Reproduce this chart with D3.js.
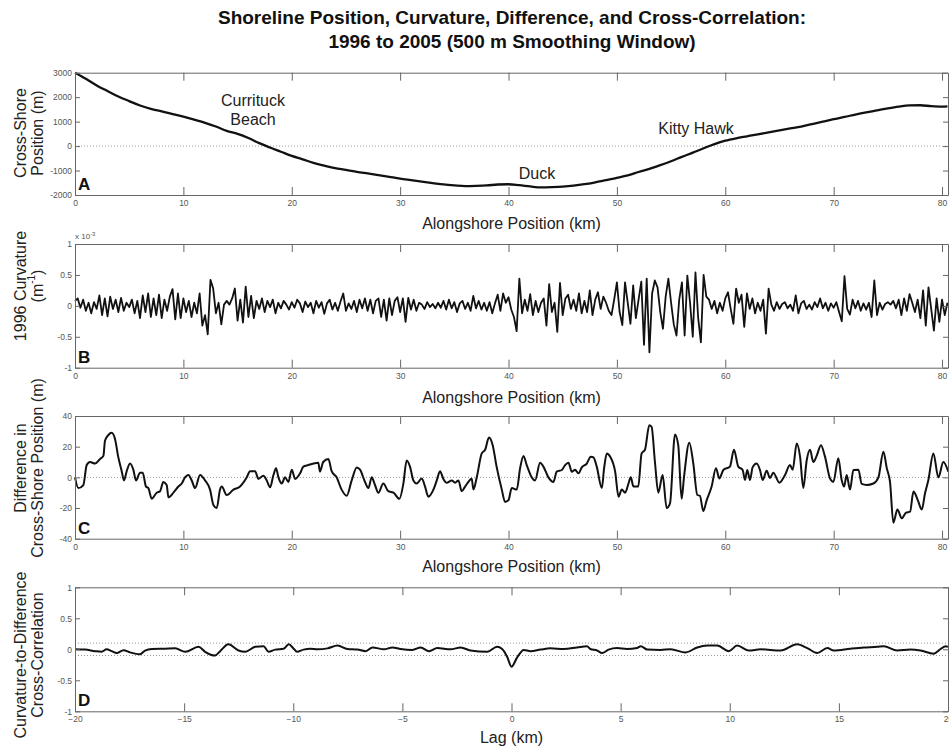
<!DOCTYPE html>
<html lang="en">
<head>
<meta charset="utf-8">
<title>Shoreline Position, Curvature, Difference, and Cross-Correlation</title>
<script src="https://cdn.jsdelivr.net/npm/d3@7"></script>
<style>
  body { margin: 0; background: #fff; }
  svg { display: block; font-family: "Liberation Sans", Arial, sans-serif; }
  .axis path, .axis line { stroke: #666; stroke-width: 1; }
  .axis text { fill: #555; font-size: 8.5px; font-family: "Liberation Sans", Arial, sans-serif; }
  .lbl { font-size: 16px; fill: #222; }
</style>
</head>
<body>
<script>

// ---- panel A : shoreline cross-shore position (m) ----
var shoreKm = [0,1,2,3,4,5,6,7,8,9,10,11,12,13,14,15,16,17,18,19,20,21,22,23,24,25,26,27,28,29,30,
  31,32,33,34,35,36,37,38,39,40,41,42,43,44,45,46,47,48,49,50,51,52,53,54,55,56,57,58,59,60,
  61,62,63,64,65,66,67,68,69,70,71,72,73,74,75,76,77,78,79,80,80.5];
var shorePos = [3000,2750,2480,2250,2030,1840,1660,1520,1420,1310,1200,1080,950,800,620,500,330,120,-60,-230,-400,
  -540,-690,-800,-900,-970,-1050,-1120,-1190,-1260,-1330,-1390,-1450,-1510,-1570,-1610,-1640,-1630,-1610,-1570,-1560,
  -1600,-1650,-1690,-1680,-1660,-1620,-1560,-1480,-1390,-1300,-1200,-1060,-930,-780,-620,-440,-270,-90,80,220,
  320,400,480,560,640,720,800,900,1000,1100,1190,1290,1380,1460,1540,1610,1660,1670,1630,1610,1620];

// ---- panel B : 1996 curvature (x 10^-3 1/m), every 0.25 km from 0 to 80.5 ----
var curvVal = [
  0.08,0.12,-0.03,0.10, -0.08,0.05,-0.12,0.06, -0.05,0.17,-0.15,0.12, -0.17,0.15,-0.05,0.10,
  -0.10,0.13,-0.08,0.05, -0.02,0.10,-0.12,0.08, -0.20,0.17,-0.10,0.20, -0.18,0.12,-0.15,0.18,
  -0.20,0.10,-0.08,0.15, 0.27,-0.22,0.20,-0.20, 0.12,-0.10,0.08,-0.18, 0.05,-0.12,0.20,-0.32,
  -0.15,-0.46,0.42,0.28, -0.12,0.05,-0.30,0.02, 0.08,0.02,0.12,0.28, -0.24,0.10,-0.27,0.31,
  -0.18,0.16,-0.20,0.08, -0.05,0.12,-0.10,0.08, -0.02,0.10,-0.12,0.05, -0.04,0.08,0.02,-0.06,
  0.06,-0.03,0.10,0.04, -0.10,0.07,-0.02,0.05, -0.12,0.08,-0.03,0.06, -0.13,0.04,0.10,-0.06,
  0.05,-0.08,0.07,0.20, -0.08,0.04,-0.05,0.08, -0.10,0.10,-0.04,0.12, -0.08,0.10,-0.12,0.08,
  0.12,-0.18,0.10,-0.24, 0.12,-0.15,0.08,0.14, -0.10,0.12,-0.26,0.13, -0.06,0.10,-0.08,0.05,
  0.02,-0.05,0.06,-0.02, 0.03,-0.04,0.05,-0.03, 0.08,-0.06,0.10,-0.04, 0.06,-0.10,0.04,0.08,
  -0.05,0.05,-0.08,0.16, -0.04,0.08,-0.06,0.05, -0.08,0.06,-0.12,0.04, 0.18,-0.08,0.20,0.05,
  0.14,-0.06,-0.18,-0.41, 0.44,-0.12,0.10,-0.08, 0.19,-0.15,0.08,-0.10, 0.05,0.12,-0.32,0.35,
  -0.10,0.05,-0.42,0.37, -0.15,0.12,0.18,-0.05, 0.10,-0.08,0.20,-0.12, 0.08,-0.10,0.25,-0.15,
  0.10,0.22,-0.05,0.15, 0.05,-0.08,-0.15,0.10, 0.38,-0.10,-0.31,0.38, 0.05,-0.29,0.33,-0.20,
  0.10,0.39,-0.63,0.44, -0.75,0.20,0.41,0.30, -0.10,-0.37,0.15,0.44, 0.05,-0.30,-0.48,0.10,
  0.38,-0.48,0.49,0.05, -0.50,0.54,-0.20,-0.59, 0.50,0.15,0.10,-0.05, 0.08,-0.12,0.05,-0.08,
  0.12,0.22,-0.05,-0.29, 0.28,0.05,0.18,-0.34, 0.20,-0.05,0.12,-0.12, 0.05,-0.08,0.10,-0.45,
  0.28,0.02,-0.08,0.06, -0.05,0.03,0.06,-0.04, 0.02,-0.08,0.17,-0.12, 0.04,0.08,-0.05,0.02,
  -0.06,0.06,-0.02,0.12, -0.04,0.05,-0.08,0.04, -0.03,0.06,-0.10,-0.25, 0.48,-0.05,-0.14,0.10,
  -0.04,0.08,-0.08,0.04, -0.06,0.05,-0.18,0.41, -0.15,0.05,-0.06,0.03, 0.06,0.02,0.08,-0.04,
  0.10,-0.15,0.12,-0.08, 0.19,0.05,-0.10,0.10, -0.20,0.25,-0.32,0.30, -0.05,-0.40,0.12,-0.26,
  0.10,-0.15,0.05];
var curvKm = curvVal.map(function(d, i) { return i * 0.25; });

// ---- panel C : difference in cross-shore position (m) ----
var diffKm = [0,0.31,0.77,1.08,1.38,1.85,2.31,2.62,2.77,3.08,3.38,3.69,4.0,4.31,4.52,4.77,5.08,5.38,5.63,6.0,
  6.25,6.55,6.77,7.08,7.54,7.85,8.15,8.46,8.62,9.08,9.54,9.85,10.15,10.46,10.77,11.08,11.54,12.0,12.46,12.77,
  13.08,13.38,13.54,14.0,14.62,15.23,15.85,16.15,16.62,16.92,17.38,17.69,18.0,18.31,18.55,18.77,19.08,19.38,19.69,20.0,
  20.31,20.77,21.07,21.53,22.0,22.45,22.6,22.9,23.38,23.68,24.14,24.6,25.07,25.53,26.0,26.3,26.76,27.07,27.38,27.68,
  27.99,28.45,28.9,29.38,29.93,30.3,30.6,30.91,31.22,31.53,31.99,32.3,32.6,33.07,33.38,33.68,33.99,34.3,34.76,35.07,
  35.38,35.68,35.99,36.3,36.6,36.76,37.07,37.53,37.84,38.2,38.54,38.9,39.38,39.68,39.99,40.3,40.76,41.07,41.38,41.68,
  42.14,42.45,42.91,43.22,43.68,44.14,44.45,44.92,45.22,45.53,45.84,46.14,46.45,46.76,47.22,47.59,47.84,48.14,48.61,48.82,
  49.07,49.38,49.84,50.15,50.45,50.76,51.07,51.28,51.53,51.97,52.28,52.59,52.99,53.2,53.51,53.82,54.22,54.59,54.9,55.36,
  55.66,55.97,56.19,56.68,57.05,57.42,57.66,57.97,58.28,58.74,59.14,59.45,59.82,60.43,60.8,61.2,61.6,61.82,62.03,62.28,
  62.52,62.9,63.2,63.45,63.82,64.13,64.43,64.99,65.51,65.97,66.22,66.59,66.9,67.2,67.51,67.82,68.12,68.43,68.83,69.2,
  69.66,69.97,70.43,70.74,70.96,71.2,71.51,71.82,72.28,72.59,73.05,73.66,74.13,74.59,74.9,75.2,75.51,75.88,76.28,76.68,
  77.05,77.36,77.76,78.13,78.43,78.74,79.2,79.66,80.12,80.58];
var diffVal = [0,-7,-5,8,10,9,12,14,24,27.6,29,25,13,4,-2,4,9,5,-2,3,
  3,-6,-7,-14,-10,-9,-3,-5,-13,-10,-6,-4,0,1.5,-2,-7,1.5,-2,-8,-18,
  -20,-8,-6,-11.5,-8,-6,0,4,4,-1,1,-2,-6.5,1.5,6,0,-4,0,-3,5,
  -1,2.6,7,8,9,9.5,3.7,10,12,4,0,-8,-12,-2,6.5,5,-3,-7,0,-5,
  -10,-4,-9,-10,-14,-4,11,7,-2,-4,-0.7,-6,-12.6,-8,-2,4,-1,-3.5,-2,-3.5,
  -2,-9,-6,-3,-0.7,-8,0,15.6,18,26,21,7,-8,-16,-15,-7,-8,6,14,8,
  0,-2,9.5,7,0,-3,3.7,4.8,8,9.5,3.7,5,2.6,6.5,9,13.5,13,7,-7,6,
  15.6,13.5,3.7,-12.6,-8,-10,-4,0,-6,-6,15.6,18,34,33,10,-10,1.5,-20,-17,28,
  21,-14,0,22.6,9,-11.5,-12,-22,-15,-6,6,-0.7,4.8,7,18,7,4.8,-1.7,4.8,-1.7,
  6.5,9,4.8,-1.7,4.3,-0.5,3,-3.5,1.5,8,5,22,13.5,-7,11,18,10,14,21,13.5,
  -0.7,-3,12.4,-1.7,-6,1.5,-8,4.8,5,-4.3,-5,-4,0,16.7,6,-3,-29.6,-21,-26.7,-23,
  -22.4,-9.3,-14.8,-21,-10.4,-1.7,15.6,0,10,3.7];

// ---- panel D : curvature-to-difference cross-correlation ----
var lagKm = [-20,-19.54,-19.08,-18.78,-18.55,-18.32,-18.09,-17.78,-17.48,-17.25,-17.02,-16.79,-16.48,-15.87,-15.41,
  -14.95,-14.34,-14.04,-13.58,-13.35,-12.97,-12.51,-12.2,-11.74,-11.36,-11.13,-10.83,-10.44,-10.21,-9.98,-9.83,-9.53,
  -9.22,-8.89,-8.43,-7.97,-7.52,-7.06,-6.68,-6.37,-5.84,-5.46,-5.08,-4.54,-4.16,-3.78,-3.4,-2.79,-2.33,-1.88,-1.11,
  -0.66,-0.43,-0.2,0,0.26,0.56,0.87,1.33,1.78,2.39,3.0,3.46,3.61,3.92,4.15,4.45,4.83,5.29,5.75,5.92,6.22,6.83,7.29,
  7.98,8.51,8.97,9.43,9.96,10.34,10.88,11.41,12.33,13.09,13.55,14.01,14.47,14.77,15.53,16.15,16.76,17.06,17.67,18.28,
  18.74,19.35,19.66,19.89,20];
var xcorr = [0,-0.005,-0.03,-0.04,0,-0.03,-0.06,-0.015,-0.05,-0.07,-0.08,-0.02,0.005,0.01,0.015,
  -0.04,0.04,-0.04,-0.10,-0.03,0.08,-0.02,-0.04,0.04,0.05,-0.04,-0.005,0.01,0.08,0.01,-0.04,-0.005,
  0.01,0,0.015,0.06,0.005,-0.005,-0.03,0.03,0,0.03,0.005,-0.01,0.03,-0.03,0.02,0,0.03,-0.02,-0.04,
  0.04,0.005,-0.12,-0.28,-0.13,-0.01,-0.03,-0.005,0.015,0.005,0.03,0.05,0.005,-0.02,-0.06,-0.005,0.02,0.005,0.02,0.05,-0.005,-0.01,0,
  -0.05,0.03,0.06,0.06,-0.03,0.06,-0.02,0,-0.02,0.08,0.02,-0.06,0.02,-0.02,0.01,0.03,0.04,0.05,-0.02,-0.005,
  -0.02,-0.07,0.005,0.05,0.04];

// ticks
var posTicks = [0,10,20,30,40,50,60,70,80];
var lagTicks = [-20,-15,-10,-5,0,5,10,15,20];
var shoreTicks = [-2000,-1000,0,1000,2000,3000];
var unitTicks = [-1,-0.5,0,0.5,1];
var diffTicks = [-40,-20,0,20,40];

var W = 949, H = 746;
var left = 75, right = 948;

var svg = d3.select("body").append("svg")
  .attr("width", W)
  .attr("height", H);

svg.append("text").attr("x", 512).attr("y", 24).attr("text-anchor", "middle")
  .style("font-weight", "bold").style("font-size", "19px").attr("fill", "#111")
  .text("Shoreline Position, Curvature, Difference, and Cross-Correlation:");
svg.append("text").attr("x", 512).attr("y", 48).attr("text-anchor", "middle")
  .style("font-weight", "bold").style("font-size", "19px").attr("fill", "#111")
  .text("1996 to 2005 (500 m Smoothing Window)");

function drawPanel(p) {
  var x = d3.scaleLinear().domain(p.xDomain).range([left, right]);
  var y = d3.scaleLinear().domain(p.yDomain).range([p.bottom, p.top]);
  var g = svg.append("g");

  // dotted reference lines
  p.refLines.forEach(function(v) {
    g.append("line")
      .attr("x1", left).attr("x2", right)
      .attr("y1", y(v)).attr("y2", y(v))
      .attr("stroke", "#999").attr("stroke-width", 1)
      .attr("stroke-dasharray", "1,2");
  });

  var line = d3.line()
    .x(function(d) { return x(d[0]); })
    .y(function(d) { return y(d[1]); })
    .curve(p.curve || d3.curveLinear);

  g.append("path")
    .datum(d3.zip(p.xs, p.ys))
    .attr("d", line)
    .attr("fill", "none")
    .attr("stroke", "#111")
    .attr("stroke-width", p.width)
    .attr("stroke-linejoin", "round");

  g.append("g").attr("class", "axis")
    .attr("transform", "translate(0," + p.bottom + ")")
    .call(d3.axisBottom(x).tickValues(p.xTicks).tickSize(-8).tickSizeOuter(0).tickPadding(5)
      .tickFormat(d3.format("d")));
  g.append("g").attr("class", "axis")
    .attr("transform", "translate(0," + p.top + ")")
    .call(d3.axisTop(x).tickValues(p.xTicks).tickSize(-8).tickSizeOuter(0).tickFormat(""));
  g.append("g").attr("class", "axis")
    .attr("transform", "translate(" + left + ",0)")
    .call(d3.axisLeft(y).tickValues(p.yTicks).tickSize(-5).tickSizeOuter(0).tickPadding(3)
      .tickFormat(function(d) { return String(d); }));
  g.append("g").attr("class", "axis")
    .attr("transform", "translate(" + right + ",0)")
    .call(d3.axisRight(y).tickValues(p.yTicks).tickSize(-5).tickSizeOuter(0).tickFormat(""));

  // panel letter
  g.append("text").attr("x", left + 3).attr("y", p.bottom - 5)
    .style("font-weight", "bold").style("font-size", "17px").attr("fill", "#111")
    .text(p.letter);

  // x label
  g.append("text").attr("class", "lbl").attr("x", (left + right) / 2).attr("y", p.xLabelY)
    .attr("text-anchor", "middle").attr("dominant-baseline", "central")
    .text(p.xLabel);

  // y label, two lines
  p.yLabel.forEach(function(t, i) {
    var tx = g.append("text").attr("class", "lbl")
      .attr("transform", "translate(" + (i === 0 ? 20 : 37) + "," + p.yLabelY + ") rotate(-90)")
      .attr("text-anchor", "middle").attr("dominant-baseline", "central");
    if (typeof t === "string") tx.text(t);
    else t(tx);
  });
  return { x: x, y: y, g: g };
}

var pA = drawPanel({
  xs: shoreKm, ys: shorePos, xDomain: [0, 80.55], yDomain: [-2000, 3000],
  top: 72.7, bottom: 195, xTicks: posTicks, yTicks: shoreTicks, refLines: [0], width: 2.3,
  letter: "A", xLabel: "Alongshore Position (km)", xLabelY: 223,
  yLabel: ["Cross-Shore", "Position (m)"], yLabelY: 133, curve: d3.curveMonotoneX
});
[["Currituck", 253, 100], ["Beach", 253, 119], ["Duck", 537, 173], ["Kitty Hawk", 696, 128]].forEach(function(a) {
  pA.g.append("text").attr("class", "lbl").attr("x", a[1]).attr("y", a[2])
    .attr("text-anchor", "middle").attr("dominant-baseline", "central").text(a[0]);
});

var pB = drawPanel({
  xs: curvKm, ys: curvVal, xDomain: [0, 80.55], yDomain: [-1, 1],
  top: 244, bottom: 367.7, xTicks: posTicks, yTicks: unitTicks, refLines: [], width: 1.8,
  letter: "B", xLabel: "Alongshore Position (km)", xLabelY: 397,
  yLabel: ["1996 Curvature", function(t) {
    t.append("tspan").text("(m");
    t.append("tspan").attr("baseline-shift", "super").style("font-size", "10px").text("-1");
    t.append("tspan").text(")");
  }], yLabelY: 286
});
var ex = pB.g.append("text").attr("x", left).attr("y", 239).style("font-size", "8px").attr("fill", "#555");
ex.append("tspan").text("x 10");
ex.append("tspan").attr("baseline-shift", "super").style("font-size", "6px").text("-3");

drawPanel({
  xs: diffKm, ys: diffVal, xDomain: [0, 80.55], yDomain: [-40, 40],
  top: 416, bottom: 538.7, xTicks: posTicks, yTicks: diffTicks, refLines: [0], width: 2,
  letter: "C", xLabel: "Alongshore Position (km)", xLabelY: 566,
  yLabel: ["Difference in", "Cross-Shore Position (m)"], yLabelY: 468, curve: d3.curveMonotoneX
});

drawPanel({
  xs: lagKm, ys: xcorr, xDomain: [-20, 20], yDomain: [-1, 1],
  top: 587.3, bottom: 711.3, xTicks: lagTicks, yTicks: unitTicks, refLines: [0.1, -0.1], width: 2,
  letter: "D", xLabel: "Lag (km)", xLabelY: 737,
  yLabel: ["Curvature-to-Difference", "Cross-Correlation"], yLabelY: 655, curve: d3.curveMonotoneX
});

</script>
</body>
</html>
